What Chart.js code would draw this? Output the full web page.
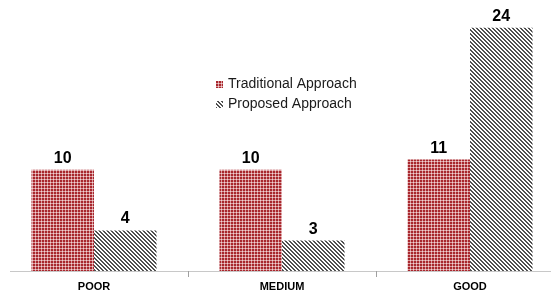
<!DOCTYPE html>
<html>
<head>
<meta charset="utf-8">
<script src="https://cdn.jsdelivr.net/npm/chart.js@4.4.1/dist/chart.umd.min.js"></script>
<style>
    html, body { margin: 0; padding: 0; background: #fff; overflow: hidden; }
    #wrap { width: 556px; height: 295px; overflow: hidden; }
</style>
</head>
<body>
<div id="wrap"><canvas id="qualityChart" width="566" height="295"></canvas></div>
<script>
// chart data
const categories = ['POOR', 'MEDIUM', 'GOOD'];
const seriesNames = ['Traditional Approach', 'Proposed Approach'];
const traditionalValues = [10, 10, 11];
const proposedValues = [4, 3, 24];

// red grid fill
function checkerPattern() {
    const c = document.createElement('canvas');
    c.width = 3; c.height = 3;
    const g = c.getContext('2d');
    g.fillStyle = '#a8272d';
    g.fillRect(0, 0, 3, 3);
    g.fillStyle = '#d9989b';
    g.fillRect(2, 0, 1, 3);
    g.fillRect(0, 2, 3, 1);
    g.fillStyle = '#f0d4d5';
    g.fillRect(2, 2, 1, 1);
    return g.createPattern(c, 'repeat');
}

// grey diagonal hatch fill
function hatchPattern() {
    const c = document.createElement('canvas');
    c.width = 4; c.height = 4;
    const g = c.getContext('2d');
    g.fillStyle = '#ffffff';
    g.fillRect(0, 0, 4, 4);
    g.fillStyle = '#505050';
    for (let i = 0; i < 4; i++) {
        g.fillRect(i, i, 1, 1);
        g.fillRect((i + 1) % 4, i, 1, 1);
    }
    return g.createPattern(c, 'repeat');
}

const fills = [checkerPattern(), hatchPattern()];

const decorations = {
    id: 'decorations',
    afterDatasetsDraw(chart) {
        const ctx = chart.ctx;
        const xScale = chart.scales.x;
        const area = chart.chartArea;
        ctx.save();

        // base axis line and ticks
        ctx.strokeStyle = '#c8c8c8';
        ctx.lineWidth = 1;
        ctx.beginPath();
        ctx.moveTo(10, area.bottom + 0.5);
        ctx.lineTo(551, area.bottom + 0.5);
        ctx.stroke();
        ctx.strokeStyle = '#a0a0a0';
        for (let i = 1; i < categories.length; i++) {
            const x = Math.round((xScale.getPixelForValue(i - 1) + xScale.getPixelForValue(i)) / 2) + 0.5;
            ctx.beginPath();
            ctx.moveTo(x, area.bottom);
            ctx.lineTo(x, area.bottom + 6);
            ctx.stroke();
        }

        // category labels
        ctx.fillStyle = '#000';
        ctx.font = 'bold 11px "Liberation Sans", Arial, sans-serif';
        ctx.textAlign = 'center';
        ctx.textBaseline = 'middle';
        categories.forEach((c, i) => {
            ctx.fillText(c, xScale.getPixelForValue(i), area.bottom + 16);
        });

        // value labels
        ctx.font = 'bold 16px "Liberation Sans", Arial, sans-serif';
        ctx.textBaseline = 'alphabetic';
        chart.data.datasets.forEach((ds, di) => {
            chart.getDatasetMeta(di).data.forEach((bar, i) => {
                ctx.fillText(ds.data[i], bar.x, bar.y - 7);
            });
        });

        // legend
        ctx.font = '14px "Liberation Sans", Arial, sans-serif';
        ctx.textAlign = 'left';
        ctx.textBaseline = 'middle';
        seriesNames.forEach((name, i) => {
            const y = 84 + i * 20;
            ctx.fillStyle = fills[i];
            ctx.fillRect(216, y - 3, 7, 7);
            ctx.fillStyle = '#1a1a1a';
            ctx.fillText(name, 228, y);
        });
        ctx.restore();
    }
};

new Chart(document.getElementById('qualityChart'), {
    type: 'bar',
    data: {
        labels: categories,
        datasets: [
            { label: seriesNames[0], data: traditionalValues, backgroundColor: fills[0] },
            { label: seriesNames[1], data: proposedValues, backgroundColor: fills[1] }
        ]
    },
    options: {
        responsive: false,
        animation: false,
        devicePixelRatio: 1,
        layout: { padding: { left: 0, right: 2, top: 0, bottom: 24 } },
        datasets: { bar: { categoryPercentage: 0.665, barPercentage: 1 } },
        plugins: { legend: { display: false }, tooltip: { enabled: false } },
        scales: {
            x: { display: false },
            y: { display: false, min: 0, max: 26.75 }
        }
    },
    plugins: [decorations]
});
</script>
</body>
</html>
